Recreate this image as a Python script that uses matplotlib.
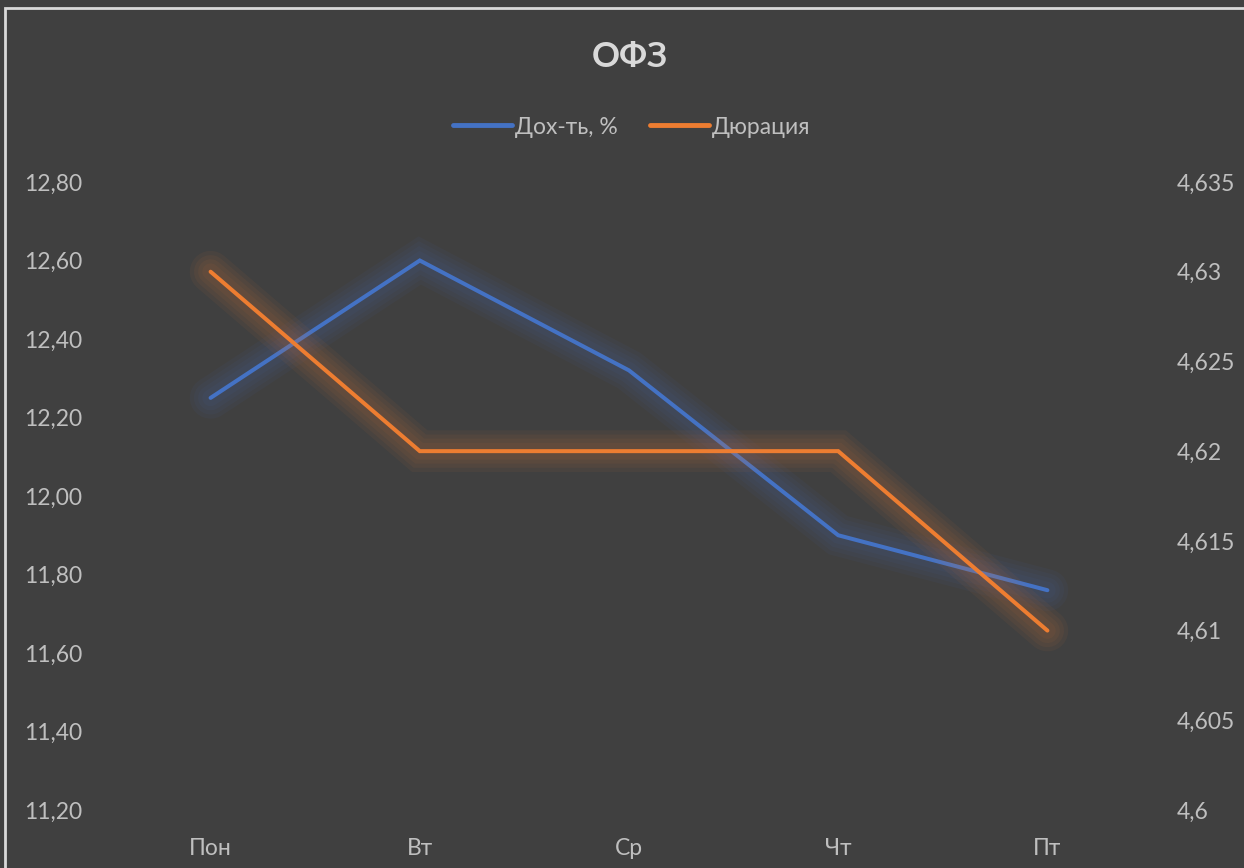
import numpy as np
import matplotlib.pyplot as plt
import matplotlib.patheffects as pe
from matplotlib.patches import Rectangle
from matplotlib.ticker import FuncFormatter

days = ['Пон', 'Вт', 'Ср', 'Чт', 'Пт']
yield_pct = [12.25, 12.60, 12.32, 11.90, 11.76]
duration = [4.630, 4.620, 4.620, 4.620, 4.610]

left_ticks = np.arange(11.2, 12.81, 0.2)
right_ticks = np.arange(4.600, 4.6351, 0.005)

bg = '#404040'
txt = '#bfbfbf'
blue = '#4472C4'
orange = '#ED7D31'

plt.rcParams['font.family'] = ['Lato', 'DejaVu Sans']

W, H = 1244, 868
fig = plt.figure(figsize=(W / 100, H / 100), dpi=100, facecolor=bg)

# plot area in pixels: left 106, right 1152, top 182, bottom 810
ax = fig.add_axes([106 / W, 1 - 810 / H, (1152 - 106) / W, (810 - 182) / H])
ax.set_facecolor(bg)
ax2 = ax.twinx()

x = np.arange(len(days))


def glow(color):
    effects = []
    for w in [30, 24, 18, 12]:
        effects.append(pe.Stroke(linewidth=w, foreground=color, alpha=0.055))
    effects.append(pe.Normal())
    return effects


l1, = ax.plot(x, yield_pct, color=blue, lw=2.9, solid_capstyle='round',
              solid_joinstyle='miter', label='Дох-ть, %', zorder=3)
l1.set_path_effects(glow(blue))
l2, = ax2.plot(x, duration, color=orange, lw=2.9, solid_capstyle='round',
               solid_joinstyle='miter', label='Дюрация', zorder=3)
l2.set_path_effects(glow(orange))

ax.set_xlim(-0.5, len(days) - 0.5)
ax.set_ylim(11.2, 12.8)
ax2.set_ylim(4.600, 4.635)
ax.set_yticks(left_ticks)
ax2.set_yticks(right_ticks)
ax.yaxis.set_major_formatter(FuncFormatter(lambda v, p: f'{v:.2f}'.replace('.', ',')))
ax2.yaxis.set_major_formatter(FuncFormatter(lambda v, p: f'{round(v, 3):g}'.replace('.', ',')))
ax.set_xticks(x)
ax.set_xticklabels(days)

for a in (ax, ax2):
    for s in a.spines.values():
        s.set_visible(False)
    a.tick_params(colors=txt, labelsize=16.5, length=0)
ax.tick_params(axis='y', pad=17)
ax2.tick_params(axis='y', pad=18)
ax.tick_params(axis='x', pad=20)

fig.text(630 / W, 1 - 57 / H, 'ОФЗ', ha='center', va='center',
         fontsize=25, fontweight='bold', color='#d9d9d9')

leg = fig.legend(handles=[l1, l2], loc='center', bbox_to_anchor=(632 / W, 1 - 127 / H),
                 ncol=2, frameon=False, fontsize=16.5, handlelength=2.55,
                 handletextpad=0.15, columnspacing=1.4)
for t in leg.get_texts():
    t.set_color(txt)
for h in leg.legend_handles:
    h.set_path_effects([])
    h.set_linewidth(3.5)

# chart border
fig.patches.append(Rectangle((5 / W, -0.1), 1.2, 1.1 - 8 / H, transform=fig.transFigure,
                             fill=False, edgecolor='#d9d9d9', lw=2))

fig.savefig('out.png', dpi=100, facecolor=bg)
